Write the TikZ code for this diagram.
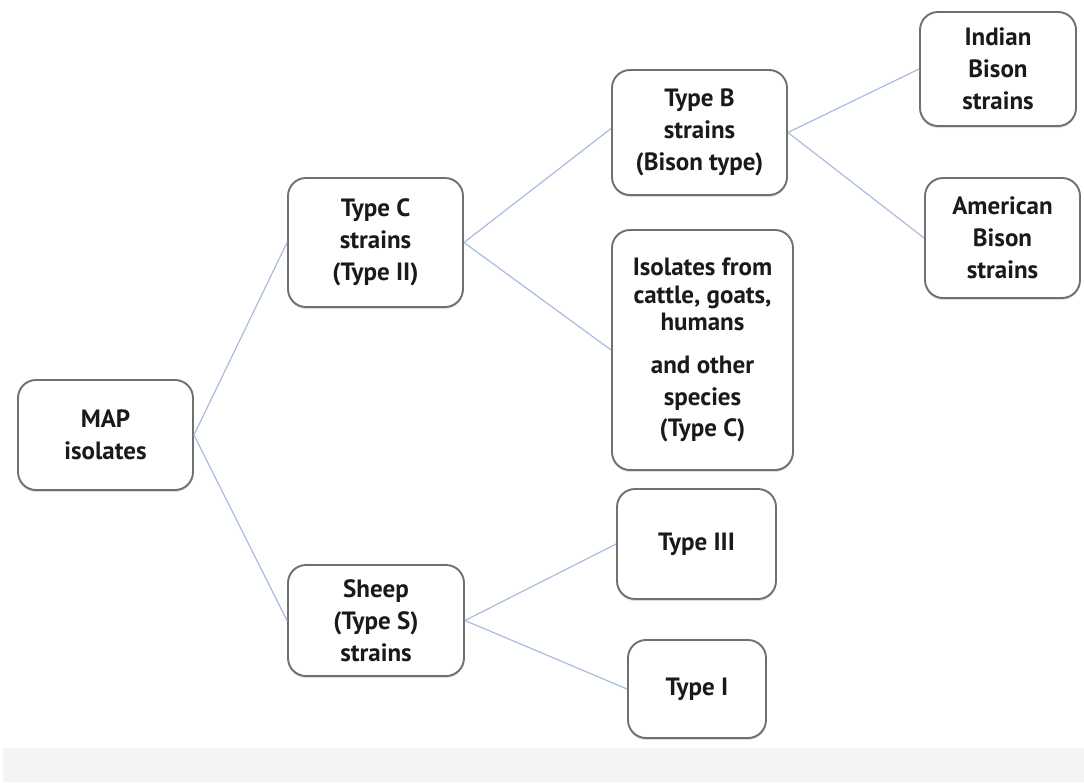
\documentclass[tikz,border=0pt]{standalone}
\usepackage{fontspec}
\setmainfont{PT Sans}
\usetikzlibrary{shadows}
\definecolor{boxline}{HTML}{707070}
\definecolor{conn}{HTML}{A9BCDF}
\definecolor{txt}{HTML}{1A1A1A}
\definecolor{band}{HTML}{F4F4F4}
\tikzset{
  box/.style={draw=boxline, line width=1.9pt, rounded corners=18pt, fill=white,
    inner sep=0pt, align=center, text=txt,
    font=\fontsize{25}{32}\selectfont\bfseries,
    drop shadow={shadow xshift=0pt, shadow yshift=-2pt, opacity=0.25, fill=gray}},
  link/.style={draw=conn, line width=1.2pt}
}
\begin{document}
\begin{tikzpicture}[x=1pt,y=-1pt]
\useasboundingbox (0,0) rectangle (1084,782);
\fill[band] (3,748) rectangle (1084,782);

\node[box, minimum width=175pt, minimum height=110pt] (map) at (105.5,435) {MAP\\isolates};
\node[box, minimum width=175pt, minimum height=129pt] (typec) at (375.5,242.5) {Type C\\strains\\(Type II)};
\node[box, minimum width=176pt, minimum height=111pt] (sheep) at (376,620.5) {Sheep\\(Type S)\\strains};
\node[box, minimum width=175pt, minimum height=125pt] (typeb) at (699.5,132.5) {Type B\\strains\\(Bison type)};
\node[box, minimum width=181pt, minimum height=240pt] (iso) at (702.5,350) {Isolates from\\[-4pt]cattle, goats,\\[-5pt]humans\\[11pt]and other\\species\\[-1pt](Type C)};
\node[box, minimum width=159pt, minimum height=110pt] (t3) at (696.5,544) {Type III};
\node[box, minimum width=138pt, minimum height=98pt] (t1) at (697,689) {Type I};
\node[box, minimum width=156pt, minimum height=114pt] (indian) at (998,69) {Indian\\Bison\\strains};
\node[box, minimum width=155pt, minimum height=120pt] (american) at (1002.5,238) {American\\Bison\\strains};

\draw[link] (map.east) -- (typec.west);
\draw[link] (map.east) -- (sheep.west);
\draw[link] (typec.east) -- ([yshift=4pt]typeb.west);
\draw[link] (typec.east) -- (iso.west);
\draw[link] (sheep.east) -- (t3.west);
\draw[link] (sheep.east) -- (t1.west);
\draw[link] (typeb.east) -- (indian.west);
\draw[link] (typeb.east) -- (american.west);
\end{tikzpicture}
\end{document}
